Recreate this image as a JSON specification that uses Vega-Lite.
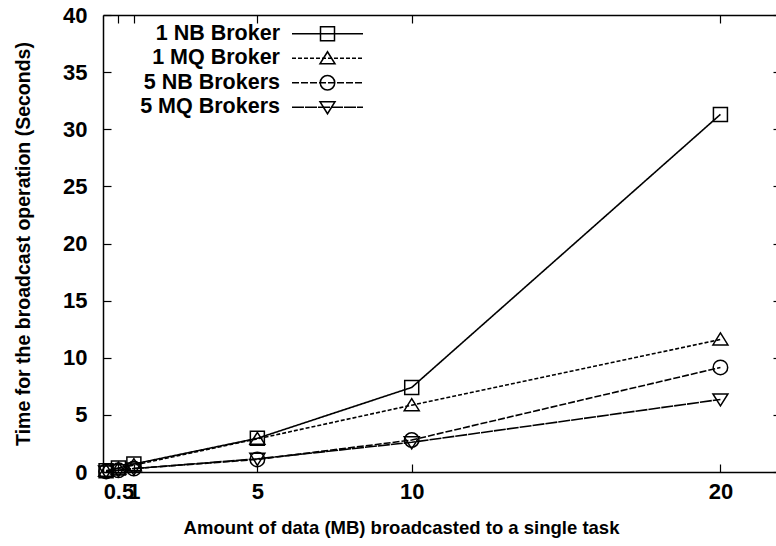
{
  "$schema": "https://vega.github.io/schema/vega-lite/v6.json",
  "width": 673,
  "height": 457,
  "autosize": {"type": "none"},
  "padding": {"left": 103, "top": 15, "right": 0, "bottom": 74},
  "background": "white",
  "config": {
    "view": {"stroke": null},
    "font": "Liberation Sans",
    "axis": {
      "grid": false,
      "labelFont": "Liberation Sans",
      "labelFontWeight": "bold",
      "labelFontSize": 22,
      "labelColor": "black",
      "titleFont": "Liberation Sans",
      "titleFontWeight": "bold",
      "titleColor": "black",
      "titleLimit": 1000,
      "domainColor": "black",
      "domainWidth": 1.5,
      "tickColor": "black",
      "tickWidth": 1.2
    },
    "legend": {
      "labelFont": "Liberation Sans",
      "labelFontWeight": "bold",
      "labelFontSize": 21.5,
      "labelColor": "black",
      "padding": 0,
      "rowPadding": 1.5,
      "labelLimit": 300
    }
  },
  "data": {
    "values": [
      {"series": "1 NB Broker", "size": 0.1, "time": 0.1},
      {"series": "1 NB Broker", "size": 0.5, "time": 0.35},
      {"series": "1 NB Broker", "size": 1, "time": 0.7},
      {"series": "1 NB Broker", "size": 5, "time": 2.95},
      {"series": "1 NB Broker", "size": 10, "time": 7.4},
      {"series": "1 NB Broker", "size": 20, "time": 31.3},
      {"series": "1 MQ Broker", "size": 0.1, "time": 0.1},
      {"series": "1 MQ Broker", "size": 0.5, "time": 0.3},
      {"series": "1 MQ Broker", "size": 1, "time": 0.6},
      {"series": "1 MQ Broker", "size": 5, "time": 2.9},
      {"series": "1 MQ Broker", "size": 10, "time": 5.85},
      {"series": "1 MQ Broker", "size": 20, "time": 11.6},
      {"series": "5 NB Brokers", "size": 0.1, "time": 0.05},
      {"series": "5 NB Brokers", "size": 0.5, "time": 0.15},
      {"series": "5 NB Brokers", "size": 1, "time": 0.3},
      {"series": "5 NB Brokers", "size": 5, "time": 1.1},
      {"series": "5 NB Brokers", "size": 10, "time": 2.8},
      {"series": "5 NB Brokers", "size": 20, "time": 9.15},
      {"series": "5 MQ Brokers", "size": 0.1, "time": 0.05},
      {"series": "5 MQ Brokers", "size": 0.5, "time": 0.15},
      {"series": "5 MQ Brokers", "size": 1, "time": 0.3},
      {"series": "5 MQ Brokers", "size": 5, "time": 1.15},
      {"series": "5 MQ Brokers", "size": 10, "time": 2.6},
      {"series": "5 MQ Brokers", "size": 20, "time": 6.35}
    ]
  },
  "layer": [
    {
      "mark": {"type": "line", "stroke": "black", "strokeWidth": 1.6},
      "encoding": {
        "x": {
          "field": "size",
          "type": "quantitative",
          "scale": {"domain": [0, 21.8], "nice": false, "zero": false},
          "axis": {
            "orient": "bottom",
            "values": [0.5, 1, 5, 10, 20],
            "format": "~g",
            "labelOverlap": false,
            "labelFlush": false,
            "tickSize": -8,
            "labelPadding": 17,
            "title": "Amount of data (MB) broadcasted to a single task",
            "titleFontSize": 18.5,
            "titleX": 298,
            "titlePadding": 16
          }
        },
        "y": {
          "field": "time",
          "type": "quantitative",
          "scale": {"domain": [0, 40], "nice": false},
          "axis": {
            "orient": "left",
            "values": [0, 5, 10, 15, 20, 25, 30, 35, 40],
            "tickSize": -8,
            "labelPadding": 24,
            "title": "Time for the broadcast operation (Seconds)",
            "titleFontSize": 19.5,
            "titlePadding": 29
          }
        },
        "strokeDash": {
          "field": "series",
          "type": "nominal",
          "sort": null,
          "scale": {"range": [[1, 0], [4, 2], [7, 2], [12, 1]]},
          "legend": {
            "orient": "none",
            "legendX": 178.25,
            "legendY": 8,
            "title": null,
            "symbolType": "M0,0H14.2",
            "symbolSize": 100,
            "symbolStrokeColor": "black",
            "symbolStrokeWidth": 1.5,
            "labelAlign": "right",
            "labelOffset": -22.75
          }
        }
      }
    },
    {
      "mark": {"type": "point", "filled": false, "color": "black", "stroke": "black", "strokeWidth": 1.5, "size": 100, "opacity": 1},
      "encoding": {
        "x": {
          "field": "size",
          "type": "quantitative",
          "axis": {"orient": "top", "values": [0.5, 1, 5, 10, 20], "labels": false, "title": null, "tickSize": -8}
        },
        "y": {
          "field": "time",
          "type": "quantitative",
          "axis": {"orient": "right", "values": [0, 5, 10, 15, 20, 25, 30, 35, 40], "labels": false, "title": null, "domain": false, "tickSize": -3}
        },
        "shape": {
          "field": "series",
          "type": "nominal",
          "scale": {
            "domain": ["1 NB Broker", "1 MQ Broker", "5 NB Brokers", "5 MQ Brokers"],
            "range": [
              "M-1.4,-1.4H1.4V1.4H-1.4Z",
              "M0,-1.3L1.5,1.1H-1.5Z",
              "M-1.45,0A1.45,1.45 0 1,1 1.45,0A1.45,1.45 0 1,1 -1.45,0Z",
              "M0,1.3L1.5,-1.1H-1.5Z"
            ]
          },
          "legend": {
            "orient": "none",
            "legendX": 178.25,
            "legendY": 8,
            "title": null,
            "symbolSize": 100,
            "symbolOffset": 35.5,
            "symbolStrokeColor": "black",
            "symbolFillColor": "transparent",
            "symbolStrokeWidth": 1.5,
            "labelOpacity": 0
          }
        }
      }
    }
  ],
  "resolve": {"axis": {"x": "independent", "y": "independent"}}
}
